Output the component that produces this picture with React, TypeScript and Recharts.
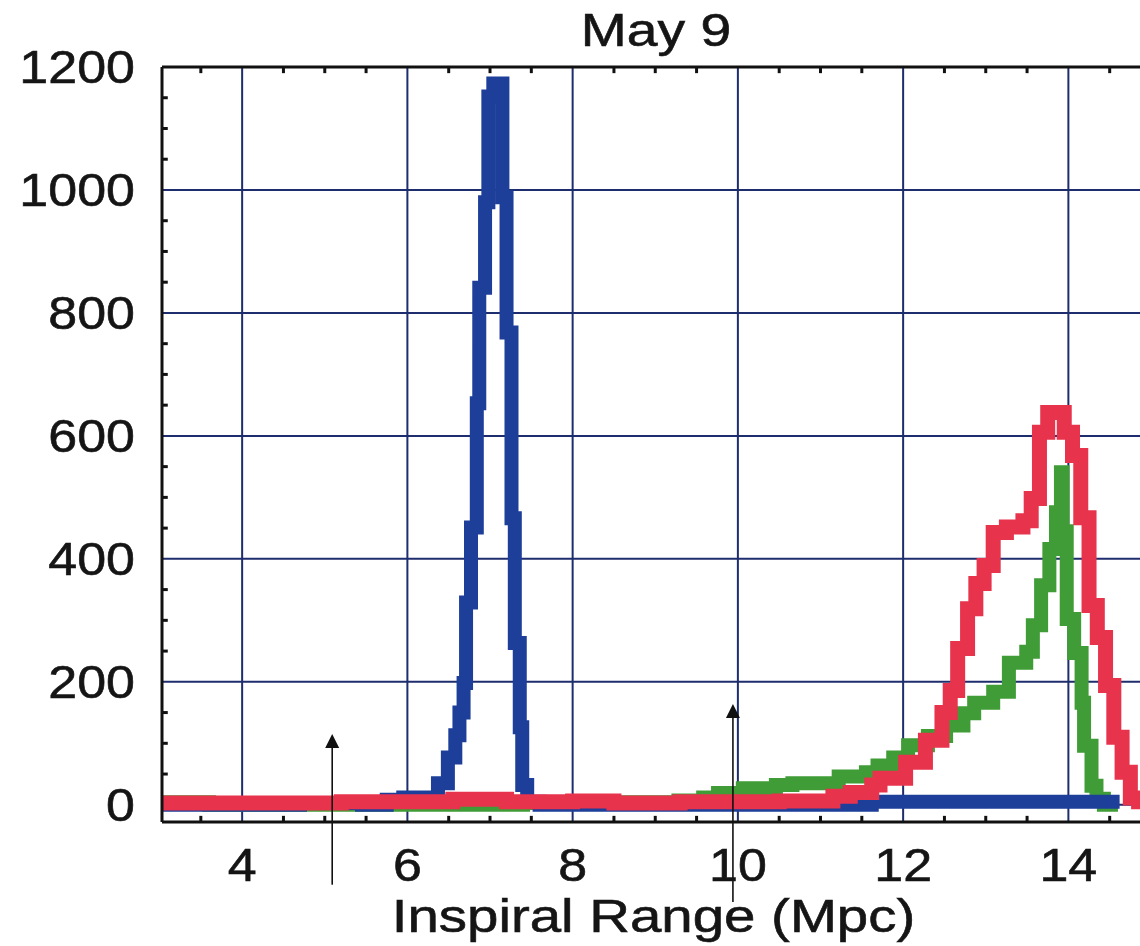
import React from "react";
import { LineChart, Line, XAxis, YAxis, CartesianGrid, ReferenceLine, Label } from "recharts";

// histogram step points: bin start (Mpc) and count
const greenX = [3.0, 3.6, 7.4, 8.3, 9.28, 9.58, 9.76, 10.06, 10.46, 10.66, 11.22, 11.55, 11.69, 11.88, 12.06, 12.3, 12.52, 12.73, 12.86, 13.09, 13.28, 13.49, 13.57, 13.67, 13.77, 13.85, 13.91, 13.93, 13.98, 14.07, 14.16, 14.19, 14.28, 14.34, 14.43, 14.6];
const greenY = [4, 0, 3, 4, 7, 12, 19, 27, 32, 35, 46, 53, 64, 77, 97, 112, 129, 149, 166, 184, 231, 249, 292, 357, 416, 476, 541, 445, 302, 247, 166, 96, 31, 10, 0, 0];

const blueX = [3.0, 4.7, 5.45, 5.75, 5.95, 6.37, 6.49, 6.58, 6.63, 6.68, 6.71, 6.77, 6.84, 6.87, 6.94, 6.98, 7.04, 7.15, 7.2, 7.26, 7.3, 7.36, 7.39, 7.45, 7.6, 11.62, 14.62];
const blueY = [0, 3, 0, 8, 12, 35, 77, 113, 150, 198, 329, 451, 653, 841, 980, 1152, 1173, 988, 768, 466, 263, 126, 32, 5, 0, 5, 5];

const redX = [3.0, 5.2, 6.55, 7.2, 8.0, 8.5, 9.3, 10.5, 11.15, 11.36, 11.62, 11.72, 12.03, 12.27, 12.47, 12.57, 12.66, 12.78, 12.88, 12.98, 13.09, 13.25, 13.45, 13.55, 13.65, 13.75, 13.95, 14.05, 14.15, 14.25, 14.35, 14.45, 14.55, 14.65, 14.75, 14.85, 15.0];
const redY = [3, 5, 9, 5, 6, 3, 5, 6, 14, 20, 32, 43, 69, 105, 150, 186, 254, 319, 360, 389, 443, 452, 462, 498, 606, 638, 606, 568, 467, 324, 272, 194, 110, 53, 11, 5, 0];

const xTicks = [4, 6, 8, 10, 12, 14];
const yTicks = [0, 200, 400, 600, 800, 1000, 1200];
const minorX = [3.5, 4.5, 5, 5.5, 6.5, 7, 7.5, 8.5, 9, 9.5, 10.5, 11, 11.5, 12.5, 13, 13.5, 14.5];
const minorY = [50, 100, 150, 250, 300, 350, 450, 500, 550, 650, 700, 750, 850, 900, 950, 1050, 1100, 1150];

// arrows: x position, bottom value, tip value
const arrows = [
  { x: 5.09, from: -130, to: 115 },
  { x: 9.94, from: -158, to: 164 },
];

const toPoints = (xs: number[], ys: number[]) => xs.map((x, i) => ({ x, y: ys[i] }));

const FONT = "'Liberation Sans', Arial, sans-serif";
const GRID = "#1e2d6e";

function StretchText({ x, y, children, anchor = "middle", size = 46, sx = 1.13 }: any) {
  return (
    <text
      x={0}
      y={0}
      transform={`translate(${x},${y}) scale(${sx},1)`}
      textAnchor={anchor}
      dominantBaseline="central"
      fontFamily={FONT}
      fontSize={size}
      fill="#151515"
      stroke="#151515"
      strokeWidth={0.6}
    >
      {children}
    </text>
  );
}

const XTick = (p: any) => <StretchText x={p.x} y={p.y + 43}>{p.payload.value}</StretchText>;
const YTick = (p: any) => (
  <StretchText x={p.x - 27} y={p.y} anchor="end">
    {p.payload.value}
  </StretchText>
);

const ArrowShape = (p: any) => {
  const { x1, y1, y2 } = p;
  const tip = Math.min(y1, y2);
  const base = Math.max(y1, y2);
  return (
    <g>
      <line x1={x1} y1={base} x2={x1} y2={tip + 10} stroke="#111" strokeWidth={1.6} />
      <polygon points={`${x1},${tip} ${x1 - 7},${tip + 14} ${x1 + 7},${tip + 14}`} fill="#111" />
    </g>
  );
};

export default function App() {
  return (
    <div style={{ position: "absolute", left: 0, top: 0, width: 1140, height: 946, overflow: "hidden", background: "#fff" }}>
      <LineChart width={1151} height={946} margin={{ top: 67, right: 0, left: 0, bottom: 64 }}>
        <CartesianGrid stroke={GRID} strokeWidth={2} />
        <XAxis
          dataKey="x"
          type="number"
          domain={[3.03, 15]}
          allowDataOverflow
          ticks={xTicks}
          tickSize={0}
          tickMargin={0}
          tickLine={false}
          axisLine={{ stroke: "#111", strokeWidth: 3 }}
          tick={XTick}
          height={60}
        >
          <Label
            content={(props: any) => {
              const vb = props.viewBox;
              return (
                <StretchText x={vb.x + vb.width / 2 - 3} y={916} size={47} sx={1.2}>
                  Inspiral Range (Mpc)
                </StretchText>
              );
            }}
          />
        </XAxis>
        <YAxis
          type="number"
          domain={[-28, 1200]}
          allowDataOverflow
          ticks={yTicks}
          tickSize={0}
          tickMargin={0}
          tickLine={false}
          axisLine={{ stroke: "#111", strokeWidth: 3 }}
          tick={YTick}
          width={162}
        />
        <ReferenceLine y={1200} stroke="#111" strokeWidth={3} />
        {minorX.map((v) => (
          <ReferenceLine key={"b" + v} segment={[{ x: v, y: -28 }, { x: v, y: -18 }]} stroke="#111" strokeWidth={3} />
        ))}
        {minorX.map((v) => (
          <ReferenceLine key={"t" + v} segment={[{ x: v, y: 1200 }, { x: v, y: 1190 }]} stroke="#111" strokeWidth={3} />
        ))}
        {minorY.map((v) => (
          <ReferenceLine key={"l" + v} segment={[{ x: 3.03, y: v }, { x: 3.1, y: v }]} stroke="#111" strokeWidth={3} />
        ))}
        <Line data={toPoints(greenX, greenY)} dataKey="y" type="stepAfter" stroke="#3f9c36" strokeWidth={14} dot={false} isAnimationActive={false} />
        <Line data={toPoints(blueX, blueY)} dataKey="y" type="stepAfter" stroke="#1d3f9a" strokeWidth={14} dot={false} isAnimationActive={false} />
        <Line data={toPoints(redX, redY)} dataKey="y" type="stepAfter" stroke="#e8334d" strokeWidth={15} dot={false} isAnimationActive={false} />
        {arrows.map((a) => (
          <ReferenceLine
            key={"a" + a.x}
            segment={[{ x: a.x, y: a.from }, { x: a.x, y: a.to }]}
            ifOverflow="visible"
            shape={ArrowShape}
          />
        ))}
      </LineChart>
      <svg style={{ position: "absolute", left: 0, top: 0 }} width={1140} height={70}>
        <StretchText x={656} y={30} size={46} sx={1.2}>
          May 9
        </StretchText>
      </svg>
    </div>
  );
}
